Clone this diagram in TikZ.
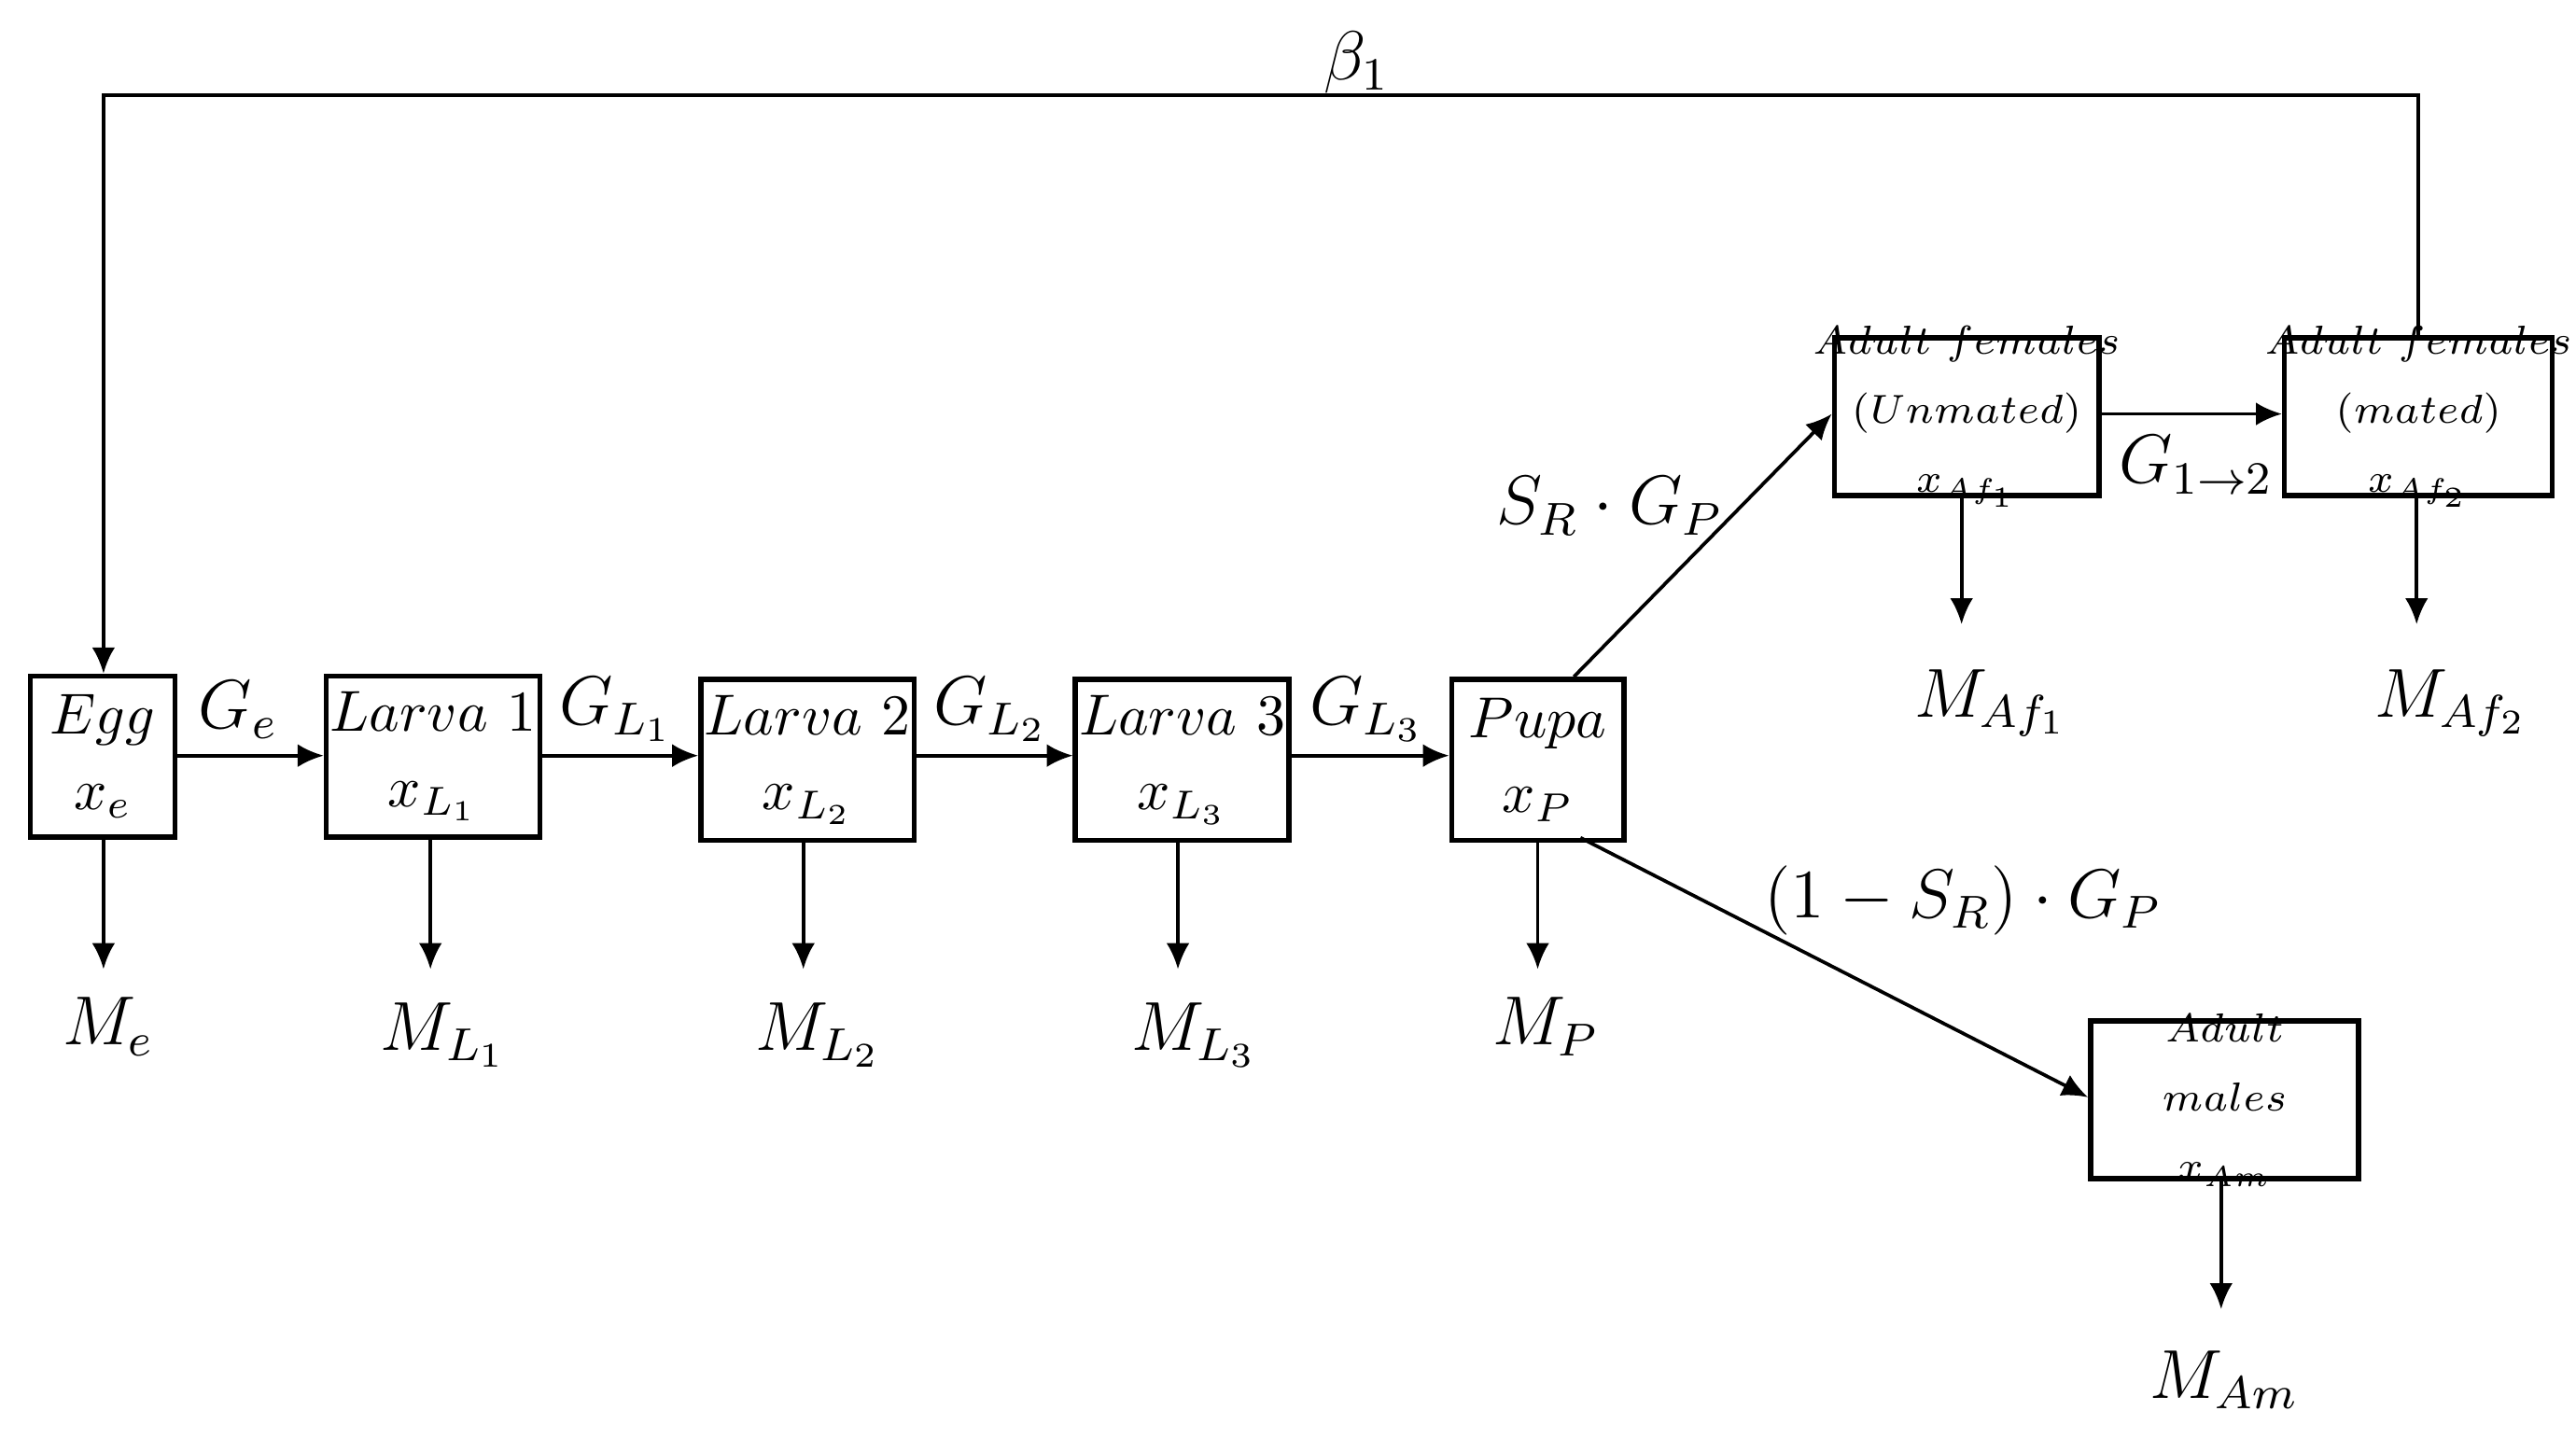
\documentclass[tikz,border=0pt]{standalone}
\usetikzlibrary{arrows.meta}
\begin{document}
\begin{tikzpicture}[x=0.01cm,y=-0.01cm,
 box/.style={draw,line width=0.9pt,inner sep=0pt,align=center},
 arr/.style={-{Latex[length=4.5pt,width=4pt]},line width=0.6pt},
 lab/.style={font=\fontsize{12}{14}\selectfont}]
\useasboundingbox (0,0) rectangle (1568,876);
\def\bx#1#2#3#4#5#6{\node[box,minimum width={(#3-#2)*0.01cm},minimum height={(#5-#4)*0.01cm},anchor=north west] (#1) at (#2,#4) {};
\node[align=center] (#1t) at (#1.center) {#6};}
\def\B{\fontsize{10}{13}\selectfont}
\def\S{\fontsize{7.5}{9.5}\selectfont}
\bx{egg}{17}{105}{410}{508}{\B$Egg$\\[1pt]\B$x_e$}
\bx{l1}{197}{327}{410}{508}{\B$Larva\ 1$\\[1pt]\B$x_{L_1}$}
\bx{l2}{425}{555}{412}{510}{\B$Larva\ 2$\\[1pt]\B$x_{L_2}$}
\bx{l3}{653}{783}{412}{510}{\B$Larva\ 3$\\[1pt]\B$x_{L_3}$}
\bx{pu}{882}{987}{412}{510}{\B$Pupa$\\[1pt]\B$x_P$}
\bx{fu}{1115}{1276}{204}{300}{\S$Adult\ females$\\\S$(Unmated)$\\\S$x_{Af_1}$}
\bx{fm}{1389}{1552}{204}{300}{\S$Adult\ females$\\\S$(mated)$\\\S$x_{Af_2}$}
\bx{am}{1271}{1434}{620}{716}{\S$Adult$\\\S$males$\\\S$x_{Am}$}
\draw[arr] (egg.east |- 0,460) -- (l1.west |- 0,460);
\draw[arr] (l1.east |- 0,460) -- (l2.west |- 0,460);
\draw[arr] (l2.east |- 0,460) -- (l3.west |- 0,460);
\draw[arr] (l3.east |- 0,460) -- (pu.west |- 0,460);
\draw[arr] (958,412) -- (fu.west |- 0,252);
\draw[arr] (962,510) -- (am.west |- 0,668);
\draw[arr] (fu.east |- 0,252) -- (fm.west |- 0,252);
\draw[arr] (fm.north) |- (63,58) -- (egg.north -| 63,0);
\foreach \n/\x/\t/\lx/\ly in {egg/63/e/66/625,l1/262/{L_1}/270/630,l2/489/{L_2}/498/630,l3/717/{L_3}/727/630,pu/936/P/941/625}{
 \coordinate (e\n) at (\x,590);
 \draw[arr] (\n.south -| \x,0) -- (e\n);
 \node[lab] (m\n) at (\lx,\ly) {$M_{\t}$};}
\coordinate (efu) at (1194,380); \draw[arr] (fu.south -| 1194,0) -- (efu);
\coordinate (efm) at (1471,380); \draw[arr] (fm.south -| 1471,0) -- (efm);
\coordinate (eam) at (1352,797); \draw[arr] (am.south -| 1352,0) -- (eam);
\node[lab] (mfu) at (1212,428) {$M_{Af_1}$};
\node[lab] (mfm) at (1492,428) {$M_{Af_2}$};
\node[lab] (mam) at (1354,840) {$M_{Am}$};
\node[lab] (b1) at (826,38) {$\beta_1$};
\node[lab] (ge) at (145,432) {$G_e$};
\node[lab] (g1) at (375,432) {$G_{L_1}$};
\node[lab] (g2) at (603,432) {$G_{L_2}$};
\node[lab] (g3) at (832,432) {$G_{L_3}$};
\node[lab] (sg) at (980,308) {$S_R\cdot G_P$};
\node[lab] (g12) at (1337,283) {$G_{1\to 2}$};
\node[lab] (sg2) at (1195,548) {$(1-S_R)\cdot G_P$};
\end{tikzpicture}
\end{document}
